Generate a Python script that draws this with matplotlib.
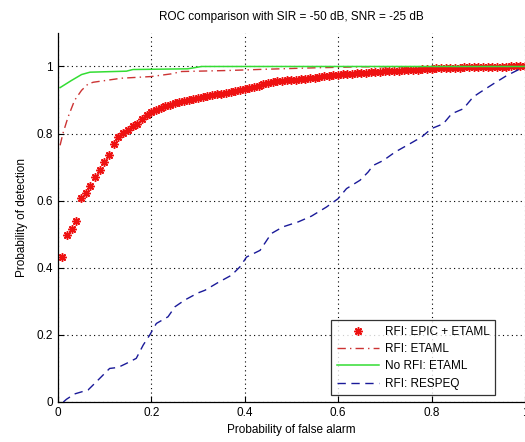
import matplotlib
matplotlib.use("Agg")
import matplotlib.pyplot as plt

# ================= DATA =================
# RFI: EPIC + ETAML (asterisk markers)
epic_pfa = [0.01, 0.02, 0.03, 0.04, 0.05, 0.06, 0.07, 0.08, 0.09, 0.10,
            0.11, 0.12, 0.13, 0.14, 0.15, 0.16, 0.17, 0.18, 0.19, 0.20,
            0.21, 0.22, 0.23, 0.24, 0.25, 0.26, 0.27, 0.28, 0.29, 0.30,
            0.31, 0.32, 0.33, 0.34, 0.35, 0.36, 0.37, 0.38, 0.39, 0.40,
            0.41, 0.42, 0.43, 0.44, 0.45, 0.46, 0.47, 0.48, 0.49, 0.50,
            0.51, 0.52, 0.53, 0.54, 0.55, 0.56, 0.57, 0.58, 0.59, 0.60,
            0.61, 0.62, 0.63, 0.64, 0.65, 0.66, 0.67, 0.68, 0.69, 0.70,
            0.71, 0.72, 0.73, 0.74, 0.75, 0.76, 0.77, 0.78, 0.79, 0.80,
            0.81, 0.82, 0.83, 0.84, 0.85, 0.86, 0.87, 0.88, 0.89, 0.90,
            0.91, 0.92, 0.93, 0.94, 0.95, 0.96, 0.97, 0.98, 0.99, 1.00]
epic_pd = [0.432, 0.497, 0.517, 0.540, 0.609, 0.623, 0.643, 0.671, 0.692, 0.715,
           0.736, 0.770, 0.790, 0.802, 0.812, 0.822, 0.830, 0.843, 0.855, 0.864,
           0.870, 0.877, 0.882, 0.886, 0.891, 0.895, 0.898, 0.901, 0.903, 0.906,
           0.909, 0.911, 0.914, 0.917, 0.919, 0.922, 0.925, 0.928, 0.931, 0.934,
           0.937, 0.940, 0.943, 0.947, 0.951, 0.954, 0.956, 0.957, 0.959, 0.960,
           0.961, 0.962, 0.964, 0.965, 0.967, 0.969, 0.971, 0.973, 0.975, 0.976,
           0.977, 0.978, 0.979, 0.980, 0.981, 0.982, 0.983, 0.984, 0.985, 0.986,
           0.987, 0.987, 0.988, 0.989, 0.989, 0.990, 0.991, 0.992, 0.992, 0.993,
           0.994, 0.994, 0.995, 0.995, 0.996, 0.996, 0.997, 0.997, 0.997, 0.998,
           0.998, 0.998, 0.999, 0.999, 0.999, 0.999, 1.000, 1.000, 1.000, 1.000]

# RFI: ETAML (dash-dot)
etaml_pfa = [0.005, 0.011, 0.022, 0.036, 0.051, 0.065, 0.076, 0.136, 0.200,
             0.243, 0.265, 0.364, 0.45, 0.55, 0.65, 1.0]
etaml_pd = [0.765, 0.800, 0.849, 0.899, 0.929, 0.948, 0.953, 0.965, 0.970,
            0.978, 0.985, 0.988, 0.992, 0.996, 0.999, 1.0]

# No RFI: ETAML (solid)
norfi_pfa = [0.005, 0.029, 0.051, 0.069, 0.147, 0.161, 0.278, 0.308, 1.0]
norfi_pd = [0.937, 0.958, 0.976, 0.983, 0.986, 0.991, 0.993, 1.0, 1.0]

# RFI: RESPEQ (dashed)
respeq_pfa = [0.012, 0.0185, 0.036, 0.065, 0.086, 0.111, 0.129, 0.147, 0.168,
              0.183, 0.197, 0.211, 0.236, 0.251, 0.272, 0.300, 0.315, 0.343,
              0.372, 0.390, 0.404, 0.433, 0.457, 0.482, 0.515, 0.543, 0.575,
              0.600, 0.618, 0.647, 0.664, 0.675, 0.697, 0.722, 0.754, 0.779,
              0.800, 0.825, 0.843, 0.868, 0.889, 0.904, 0.932, 0.961, 0.997]
respeq_pd = [0.000, 0.008, 0.024, 0.036, 0.065, 0.100, 0.103, 0.115, 0.130,
             0.170, 0.200, 0.234, 0.254, 0.284, 0.304, 0.325, 0.333, 0.356,
             0.378, 0.403, 0.432, 0.452, 0.502, 0.522, 0.537, 0.554, 0.581,
             0.606, 0.636, 0.661, 0.685, 0.705, 0.720, 0.745, 0.770, 0.790,
             0.815, 0.829, 0.859, 0.874, 0.909, 0.923, 0.948, 0.973, 0.998]

ticks = [0, 0.2, 0.4, 0.6, 0.8, 1]
tick_labels = ["0", "0.2", "0.4", "0.6", "0.8", "1"]

# ================= PLOT =================
plt.rcParams['font.family'] = ['Liberation Sans', 'DejaVu Sans']
plt.rcParams['font.size'] = 8.5

fig = plt.figure(figsize=(5.25, 4.42), dpi=100)
ax = fig.add_axes([0.110, 0.0905, 0.89, 0.835])

ax.plot(epic_pfa, epic_pd, linestyle='none', marker=(8, 2, 0), markersize=6,
        markeredgewidth=1.1, color='#ee1111', label='RFI: EPIC + ETAML')
ax.plot(etaml_pfa, etaml_pd, linestyle=(0, (6, 3, 1, 3)), linewidth=1,
        color='#cc3333', label='RFI: ETAML')
ax.plot(norfi_pfa, norfi_pd, linestyle='-', linewidth=1.1,
        color='#33dd33', label='No RFI: ETAML')
ax.plot(respeq_pfa, respeq_pd, linestyle=(0, (6, 4)), linewidth=1,
        color='#1a1a99', label='RFI: RESPEQ')

ax.set_xlim(0, 1)
ax.set_ylim(0, 1.1)
ax.set_xticks(ticks)
ax.set_xticklabels(tick_labels)
ax.set_yticks(ticks)
ax.set_yticklabels(tick_labels)
ax.tick_params(direction='in', length=4, width=0.8, colors='black', labelsize=8.5)
ax.grid(True, linestyle=(0, (1, 3)), color='black', linewidth=0.8)

for side in ['top', 'right']:
    ax.spines[side].set_visible(False)
for side in ['left', 'bottom']:
    ax.spines[side].set_linewidth(0.9)

ax.set_title('ROC comparison with SIR = -50 dB, SNR = -25 dB', fontsize=8.5, pad=9)
ax.set_xlabel('Probability of false alarm', fontsize=8.5, labelpad=4)
ax.set_ylabel('Probability of detection', fontsize=8.5, labelpad=6)

leg = ax.legend(loc='lower right', bbox_to_anchor=(0.936, 0.019), fontsize=8.5,
                frameon=True, fancybox=False, edgecolor='black',
                handlelength=3.6, borderpad=0.45, labelspacing=0.45,
                handletextpad=0.5, borderaxespad=0)
leg.get_frame().set_linewidth(0.9)

fig.savefig('out.png', dpi=100)
